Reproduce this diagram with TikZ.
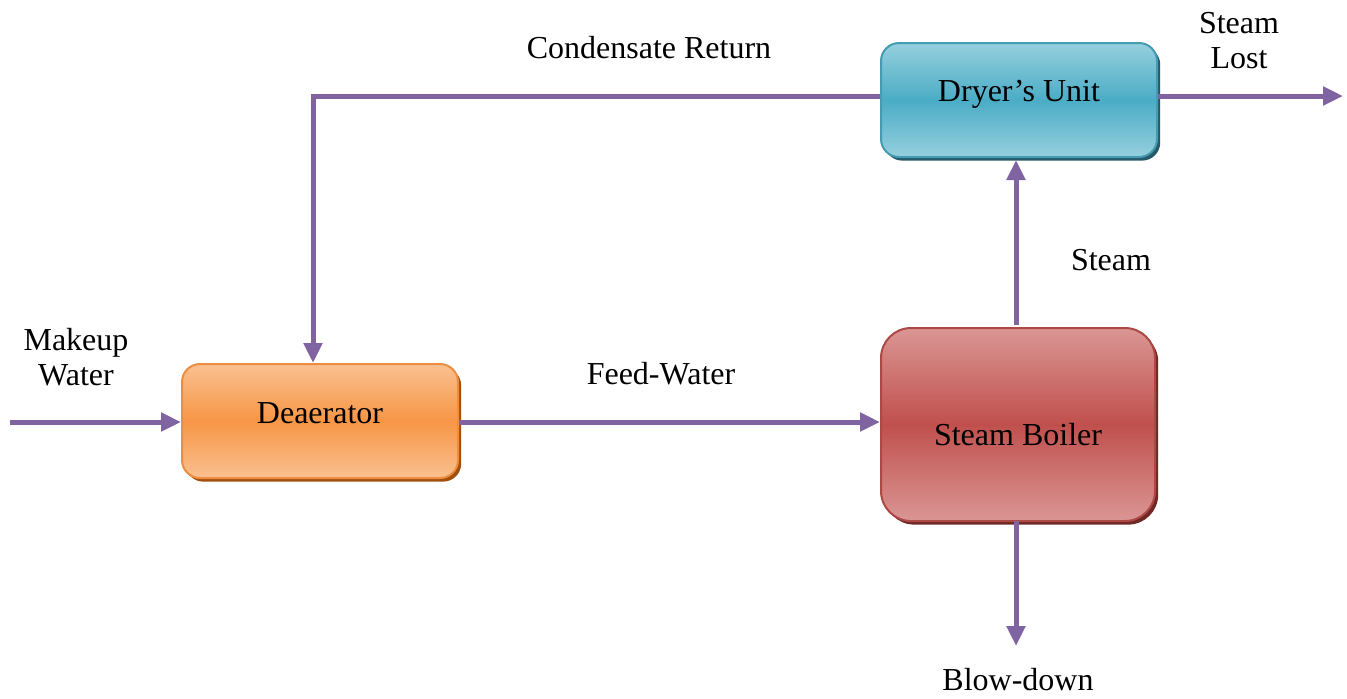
\documentclass[tikz,border=0pt]{standalone}
\usepackage{fontspec}
\setmainfont{Liberation Serif}
\usetikzlibrary{arrows.meta,shadows,calc}
\definecolor{flow}{RGB}{128,100,162}
\definecolor{teallt}{RGB}{150,208,222}
\definecolor{tealmd}{RGB}{75,172,198}
\definecolor{tealdk}{RGB}{38,90,106}
\definecolor{orglt}{RGB}{250,192,144}
\definecolor{orgmd}{RGB}{247,150,70}
\definecolor{orgdk}{RGB}{160,80,12}
\definecolor{redlt}{RGB}{218,150,148}
\definecolor{redmd}{RGB}{192,80,77}
\definecolor{reddk}{RGB}{110,40,38}
\tikzset{
  unit/.style={draw, line width=1pt, rounded corners=9pt, inner sep=0pt},
  tealbox/.style={unit, draw=tealmd!90!black, top color=teallt, bottom color=teallt, middle color=tealmd,
    general shadow={fill=tealdk, shadow xshift=1.6pt, shadow yshift=-1.8pt}},
  orgbox/.style={unit, draw=orgmd!95!black, top color=orglt, bottom color=orglt, middle color=orgmd,
    general shadow={fill=orgdk, shadow xshift=1.6pt, shadow yshift=-1.8pt}},
  redbox/.style={unit, rounded corners=15pt, draw=redmd!90!black, top color=redlt, bottom color=redlt, middle color=redmd,
    general shadow={fill=reddk, shadow xshift=1.6pt, shadow yshift=-1.8pt}},
  pipe/.style={draw=flow, line width=2.5pt, -{Triangle[length=10pt,width=9pt]}},
  lbl/.style={font=\fontsize{16}{17.5}\selectfont, align=center, inner sep=0pt}
}
\begin{document}
\begin{tikzpicture}[x=0.5pt,y=-0.5pt]
\useasboundingbox (0,0) rectangle (1347,698);
% units
\node[orgbox, minimum width=138pt, minimum height=57pt] (dea) at (320,421) {};
\node[redbox, minimum width=137pt, minimum height=96.5pt] (boil) at (1018,424.5) {};
\node[tealbox, minimum width=138pt, minimum height=57pt] (dry) at (1019,100) {};
\node[lbl] (deat) at (320,413) {Deaerator};
\node[lbl] (boilt) at (1018,435) {Steam Boiler};
\node[lbl] (dryt) at (1019,94) {Dryer’s Unit};
% free ends
\coordinate (mkin) at (10,422);
\coordinate (lost) at (1343,96);
\coordinate (blow) at (1016,646);
\coordinate (cbend) at (313,96);
\coordinate (cend) at (313,363);
% connectors
\draw[pipe] (mkin) -- (dea.west |- mkin);
\draw[pipe] (dea.east |- mkin) -- (boil.west |- mkin);
\draw[pipe] (dry.west |- cbend) -- (cbend) -- (cend);
\draw[pipe] (1016,325) -- (1016,160);
\draw[pipe] (dry.east |- lost) -- (lost);
\draw[pipe] (1016,521) -- (blow);
% labels
\node[lbl] (lcond) at (649,48) {Condensate Return};
\node[lbl] (llost) at (1239,41) {Steam\\Lost};
\node[lbl] (lsteam) at (1111,260) {Steam};
\node[lbl] (lmake) at (76,357) {Makeup\\Water};
\node[lbl] (lfeed) at (661,374) {Feed-Water};
\node[lbl] (lblow) at (1018,680) {Blow-down};
\end{tikzpicture}
\end{document}
